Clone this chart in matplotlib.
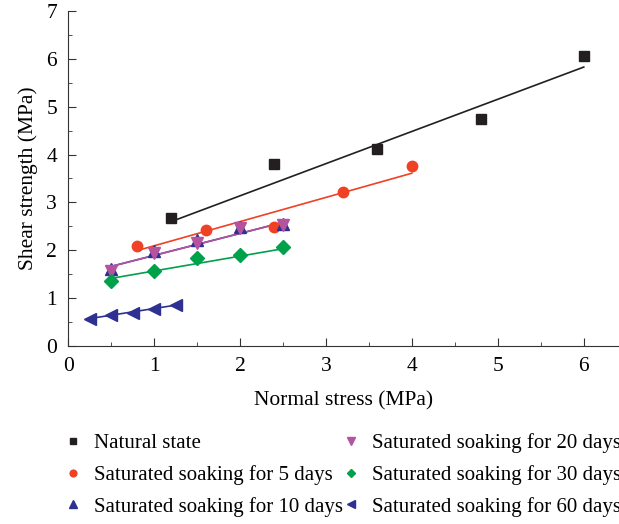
import numpy as np
import matplotlib
matplotlib.use("Agg")
import matplotlib.pyplot as plt
from matplotlib.ticker import MultipleLocator

plt.rcParams['font.family'] = ['Liberation Serif', 'DejaVu Serif']

labels = ["Natural state", "Saturated soaking for 5 days", "Saturated soaking for 10 days",
          "Saturated soaking for 20 days", "Saturated soaking for 30 days", "Saturated soaking for 60 days"]

x_natural = [1.2, 2.4, 3.6, 4.8, 6.0]
y_natural = [2.67, 3.80, 4.12, 4.74, 6.05]
x_5d = [0.8, 1.6, 2.4, 3.2, 4.0]
y_5d = [2.09, 2.42, 2.48, 3.21, 3.76]
x_10d = [0.5, 1.0, 1.5, 2.0, 2.5]
y_10d = [1.60, 1.98, 2.21, 2.49, 2.55]
x_20d = [0.5, 1.0, 1.5, 2.0, 2.5]
y_20d = [1.57, 1.95, 2.16, 2.46, 2.53]
x_30d = [0.5, 1.0, 1.5, 2.0, 2.5]
y_30d = [1.35, 1.57, 1.84, 1.90, 2.07]
x_60d = [0.25, 0.5, 0.75, 1.0, 1.25]
y_60d = [0.56, 0.65, 0.69, 0.77, 0.85]

# fitted strength lines (slope = tan phi, intercept = c)
fit_slope = [0.673, 0.506, 0.46, 0.46, 0.31, 0.28]
fit_icpt = [1.79, 1.585, 1.43, 1.43, 1.255, 0.50]

colors = ["#231f20", "#ef4123", "#2e3192", "#b5539f", "#00a14b", "#2e3192"]
markers = ["s", "o", "^", "v", "D", "<"]
msizes = [6.5, 7.5, 9, 9, 7, 9]

xs = [x_natural, x_5d, x_10d, x_20d, x_30d, x_60d]
ys = [y_natural, y_5d, y_10d, y_20d, y_30d, y_60d]

fig = plt.figure(figsize=(6.19, 5.24), dpi=100)
ax = fig.add_axes([0.110, 0.340, 0.890, 0.639])

for i in range(6):
    xx = np.array([xs[i][0], xs[i][-1]])
    ax.plot(xx, fit_slope[i] * xx + fit_icpt[i], color=colors[i], lw=1.2, zorder=2)
for i in range(6):
    ax.plot(xs[i], ys[i], linestyle='none', marker=markers[i], ms=msizes[i],
            color=colors[i], label=labels[i], zorder=3)

ax.set_xlim(0, 6.41)
ax.set_ylim(0, 7)
ax.xaxis.set_major_locator(MultipleLocator(1))
ax.xaxis.set_minor_locator(MultipleLocator(0.5))
ax.yaxis.set_major_locator(MultipleLocator(1))
ax.yaxis.set_minor_locator(MultipleLocator(0.5))
ax.tick_params(which='both', direction='in', labelsize=15.5, color='#333333', pad=8)
ax.tick_params(which='major', length=6)
ax.tick_params(which='minor', length=3)
ax.spines['top'].set_visible(False)
ax.spines['right'].set_visible(False)
for s in ['left', 'bottom']:
    ax.spines[s].set_color('#333333')
ax.set_xlabel("Normal stress (MPa)", fontsize=15.5, labelpad=11)
ax.set_ylabel("Shear strength (MPa)", fontsize=15.5, labelpad=6)

fig.legend(loc='center left', bbox_to_anchor=(0.105, 0.0935), ncol=2, frameon=False,
           fontsize=15, markerscale=0.65, handlelength=0.8, handletextpad=0.6,
           columnspacing=0.0, labelspacing=0.57, borderaxespad=0, borderpad=0)

plt.savefig("out.png", dpi=100)
